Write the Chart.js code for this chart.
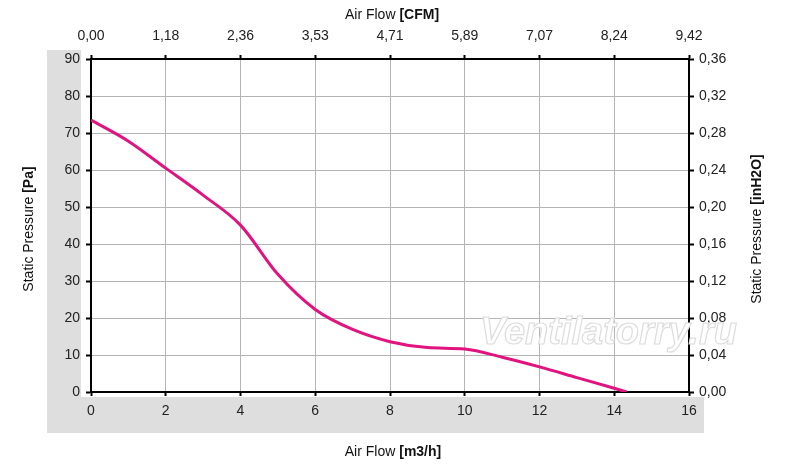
<!DOCTYPE html>
<html>
<head>
<meta charset="utf-8">
<script src="https://cdn.jsdelivr.net/npm/chart.js@4"></script>
<style>
  html, body { margin: 0; padding: 0; background: #fff; }
  #wrap { width: 800px; height: 466px; position: relative; }
</style>
</head>
<body>
<div id="wrap"><canvas id="fanChart"></canvas></div>
<script>
// air flow, m3/h
const airFlow = [0, 1, 2, 3, 4, 5, 6, 7, 8, 9, 10, 11, 12, 13, 14, 14.33];
// static pressure, Pa
const pressure = [73.5, 67.8, 60.5, 53.2, 45.1, 31.8, 22.3, 16.9, 13.6, 12, 11.6, 9.4, 6.8, 3.9, 1.0, 0];

const cfmLabels = ['0,00', '1,18', '2,36', '3,53', '4,71', '5,89', '7,07', '8,24', '9,42'];
const inh2oLabels = ['0,00', '0,04', '0,08', '0,12', '0,16', '0,20', '0,24', '0,28', '0,32', '0,36'];

const tickFont = { family: 'Liberation Sans, Arial, sans-serif', size: 14 };
const gridGrey = '#b4b4b4';

// grey bands behind the left and bottom scales
const bands = {
  id: 'bands',
  beforeDraw(chart) {
    const ctx = chart.ctx;
    ctx.save();
    ctx.fillStyle = '#dedede';
    ctx.fillRect(47, 50, 34, 347);
    ctx.fillRect(47, 397, 657, 36);
    ctx.restore();
  }
};

// watermark sits over the grid, under the curve
const watermark = {
  id: 'watermark',
  beforeDatasetsDraw(chart) {
    const ctx = chart.ctx;
    ctx.save();
    ctx.font = 'italic bold 38px Liberation Sans, Arial, sans-serif';
    ctx.textBaseline = 'alphabetic';
    ctx.fillStyle = '#ffffff';
    ctx.strokeStyle = '#dcdcdc';
    ctx.lineWidth = 1.2;
    ctx.fillText('Ventilatorry.ru', 480, 344);
    ctx.strokeText('Ventilatorry.ru', 480, 344);
    ctx.restore();
  }
};

// axis titles, plain part + bold unit
function mixedText(ctx, plain, bold, x, y, rot) {
  ctx.save();
  ctx.translate(x, y);
  ctx.rotate(rot);
  ctx.fillStyle = '#111';
  ctx.textBaseline = 'middle';
  const fPlain = '14px Liberation Sans, Arial, sans-serif';
  const fBold = 'bold 14px Liberation Sans, Arial, sans-serif';
  ctx.font = fPlain;
  const w1 = ctx.measureText(plain).width;
  ctx.font = fBold;
  const w2 = ctx.measureText(bold).width;
  let start = -(w1 + w2) / 2;
  ctx.font = fPlain;
  ctx.fillText(plain, start, 0);
  ctx.font = fBold;
  ctx.fillText(bold, start + w1, 0);
  ctx.restore();
}

const titles = {
  id: 'titles',
  afterDraw(chart) {
    const ctx = chart.ctx;
    mixedText(ctx, 'Air Flow ', '[CFM]', 392, 15, 0);
    mixedText(ctx, 'Air Flow ', '[m3/h]', 393, 452, 0);
    mixedText(ctx, 'Static Pressure ', '[Pa]', 29, 229, -Math.PI / 2);
    mixedText(ctx, 'Static Pressure ', '[inH2O]', 757, 229, -Math.PI / 2);
  }
};

const ctx = document.getElementById('fanChart').getContext('2d');
new Chart(ctx, {
  type: 'line',
  data: {
    datasets: [{
      data: airFlow.map((x, i) => ({ x: x, y: pressure[i] })),
      borderColor: '#e0137f',
      borderWidth: 3,
      pointRadius: 0,
      cubicInterpolationMode: 'monotone',
      fill: false
    }]
  },
  options: {
    responsive: true,
    maintainAspectRatio: false,
    animation: false,
    layout: { padding: 0 },
    plugins: { legend: { display: false }, tooltip: { enabled: false } },
    scales: {
      x: {
        type: 'linear', position: 'bottom', min: 0, max: 16,
        afterFit(s) { s.height = 74; },
        ticks: { stepSize: 2, font: tickFont, color: '#222', padding: 7, maxRotation: 0 },
        grid: { color: gridGrey, lineWidth: 1, tickLength: 4, tickColor: '#000', tickWidth: 2 },
        border: { color: '#000', width: 2 }
      },
      xTop: {
        type: 'linear', position: 'top', min: 0, max: 16,
        afterFit(s) { s.height = 59; },
        ticks: { stepSize: 2, font: tickFont, color: '#222', padding: 10, maxRotation: 0,
          callback: (v, i) => cfmLabels[i] },
        grid: { drawOnChartArea: false, tickLength: 4, tickColor: '#000', tickWidth: 2 },
        border: { color: '#000', width: 2 }
      },
      y: {
        type: 'linear', position: 'left', min: 0, max: 90,
        afterFit(s) { s.width = 91; },
        ticks: { stepSize: 10, font: tickFont, color: '#222', padding: 6 },
        grid: { color: gridGrey, lineWidth: 1, tickLength: 5, tickColor: '#000', tickWidth: 2 },
        border: { color: '#000', width: 2 }
      },
      yRight: {
        type: 'linear', position: 'right', min: 0, max: 90,
        afterFit(s) { s.width = 111; },
        ticks: { stepSize: 10, font: tickFont, color: '#222', padding: 5,
          callback: (v, i) => inh2oLabels[i] },
        grid: { drawOnChartArea: false, tickLength: 5, tickColor: '#000', tickWidth: 2 },
        border: { color: '#000', width: 2 }
      }
    }
  },
  plugins: [bands, watermark, titles]
});
</script>
</body>
</html>
